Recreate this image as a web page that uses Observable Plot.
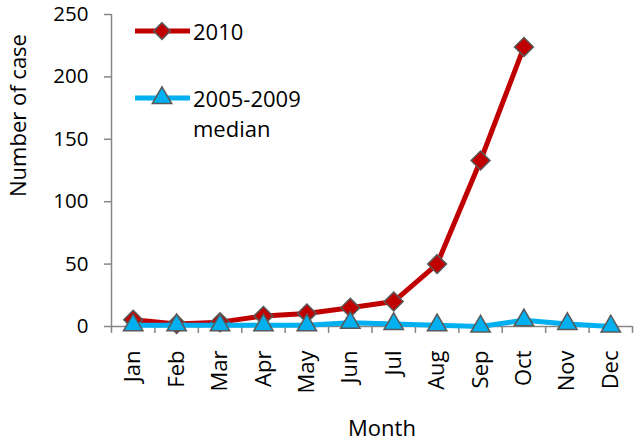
<!DOCTYPE html>
<html>
<head>
<meta charset="utf-8">
<script src="https://cdn.jsdelivr.net/npm/d3@7"></script>
<script src="https://cdn.jsdelivr.net/npm/@observablehq/plot@0.6"></script>
<style>
  html, body { margin: 0; padding: 0; background: #fff; }
  #wrap { position: relative; width: 635px; height: 441px; font-family: "Open Sans", sans-serif; }
  .item { position: absolute; left: 135px; display: flex; align-items: flex-start; font-size: 22px; line-height: 30px; color: #000; }
  .item svg { flex: none; }
</style>
</head>
<body>
<div id="wrap">
  <div id="chart"></div>
</div>
<script>
const months = ["Jan","Feb","Mar","Apr","May","Jun","Jul","Aug","Sep","Oct","Nov","Dec"];
const cases2010 = [5.5, 2, 3.5, 8.5, 10.5, 15, 20, 50, 133, 224, null, null];
const median0509 = [1, 1, 1, 1, 1, 3, 2, 1, 0, 5, 2, 0];
const yTicks = [0, 50, 100, 150, 200, 250];
const yTitle = "Number of case";
const xTitle = "Month";
const series = [
  {name: "2010", lines: ["2010"], values: cases2010, color: "#c00000", symbol: "diamond2", r: 8.5, legendR: 7.5},
  {name: "2005-2009 median", lines: ["2005-2009", "median"], values: median0509, color: "#00b0f0", symbol: "triangle", r: 7.2, legendR: 7.2}
];

const rows = s => months.map((m, i) => ({i: i + 0.5, month: m, v: s.values[i]})).filter(d => d.v != null);
const axisGrey = "#868686";

const marks = [];
marks.push(Plot.axisY({ticks: yTicks, tickSize: 7, tickPadding: 16, stroke: axisGrey, strokeWidth: 1.5, fontSize: 20.5, label: null}));
marks.push(Plot.axisX({ticks: d3.range(0, 13), tickSize: 7, tickFormat: () => "", stroke: axisGrey, strokeWidth: 1.5, label: null}));
marks.push(Plot.axisX({ticks: months.map((m, i) => i + 0.5), tickFormat: d => months[Math.floor(d)], tickSize: 0,
  tickPadding: 24, tickRotate: -90, fontSize: 22, label: null}));
marks.push(Plot.ruleX([0], {stroke: axisGrey, strokeWidth: 1.5}));
marks.push(Plot.ruleY([0], {stroke: axisGrey, strokeWidth: 1.5}));
marks.push(Plot.text([yTitle], {frameAnchor: "left", rotate: -90, dx: -93, dy: -55, fontSize: 22, lineAnchor: "middle", textAnchor: "middle"}));
marks.push(Plot.text([xTitle], {frameAnchor: "bottom", dx: 10, dy: 102, fontSize: 22, lineAnchor: "middle"}));
for (const s of series) {
  const data = rows(s);
  marks.push(Plot.line(data, {x: "i", y: "v", stroke: s.color, strokeWidth: 5}));
  marks.push(Plot.dot(data, {x: "i", y: "v", symbol: s.symbol, r: s.r, fill: s.color, stroke: "#595959", strokeWidth: 1.5}));
}

const chart = Plot.plot({
  width: 635,
  height: 441,
  marginLeft: 111,
  marginRight: 3,
  marginTop: 14,
  marginBottom: 115,
  style: {fontFamily: "'Open Sans', sans-serif", fontSize: "21px", color: "#000", background: "#fff", overflow: "visible"},
  x: {type: "linear", domain: [0, 12]},
  y: {domain: [0, 250]},
  marks
});
document.getElementById("chart").appendChild(chart);

// legend (HTML overlay inside the plot area)
const wrap = d3.select("#wrap");
const sym = {diamond2: d3.symbolDiamond2, triangle: d3.symbolTriangle};
const legendTops = [16, 83];
series.forEach((s, k) => {
  const item = wrap.append("div").attr("class", "item").style("top", legendTops[k] + "px");
  const svg = item.append("svg").attr("width", 58).attr("height", 30);
  svg.append("line").attr("x1", 0).attr("x2", 55).attr("y1", 15).attr("y2", 15)
    .attr("stroke", s.color).attr("stroke-width", 5);
  svg.append("path").attr("transform", "translate(27,15)")
    .attr("d", d3.symbol(sym[s.symbol], Math.PI * s.legendR * s.legendR)())
    .attr("fill", s.color).attr("stroke", "#595959").attr("stroke-width", 1.5);
  item.append("div").html(s.lines.join("<br>"));
});
</script>
</body>
</html>
